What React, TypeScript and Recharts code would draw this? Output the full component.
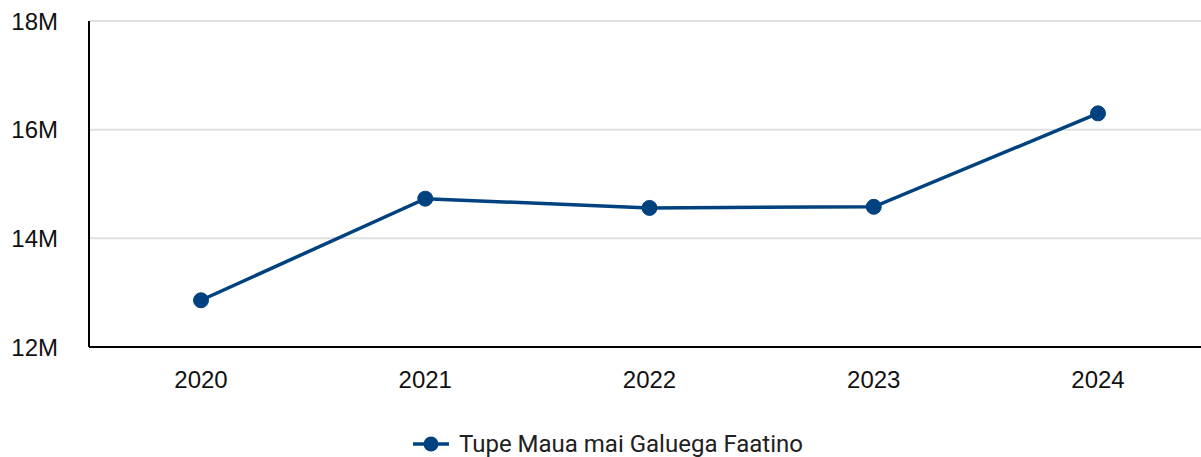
import { LineChart, Line, XAxis, YAxis, CartesianGrid, Legend } from "recharts";

const years = ["2020", "2021", "2022", "2023", "2024"];
const values = [12.86e6, 14.73e6, 14.56e6, 14.58e6, 16.3e6];
const yTicks = [12e6, 14e6, 16e6, 18e6];
const seriesName = "Tupe Maua mai Galuega Faatino";

const data = years.map((year, i) => ({ year, value: values[i] }));

const NAVY = "#00427f";
const tickStyle = { fontSize: 24, fill: "#111", fontFamily: "'Liberation Sans', Arial, sans-serif" };

function LegendContent() {
  return (
    <div
      style={{
        display: "flex",
        justifyContent: "center",
        alignItems: "center",
        height: 24,
        marginTop: 15,
        paddingLeft: 6,
      }}
    >
      <svg width={36} height={16} style={{ marginRight: 10 }}>
        <line x1={0} y1={8} x2={36} y2={8} stroke={NAVY} strokeWidth={3.5} />
        <circle cx={18} cy={8} r={7.5} fill={NAVY} />
      </svg>
      <span style={{ fontFamily: "Roboto, sans-serif", fontSize: 24, lineHeight: "24px", color: "#212121" }}>
        {seriesName}
      </span>
    </div>
  );
}

export default function App() {
  return (
    <div style={{ position: "absolute", left: 0, top: 0, width: 1201, height: 457, overflow: "hidden", background: "#fff" }}>
      <LineChart width={1210} height={457} data={data} margin={{ top: 21, right: 0, bottom: 0, left: 0 }}>
        <CartesianGrid vertical={false} stroke="#e0e0e0" strokeWidth={2} />
        <XAxis
          dataKey="year"
          height={70}
          padding={{ left: 112, right: 112 }}
          axisLine={{ stroke: "#000", strokeWidth: 2 }}
          tickLine={false}
          tickSize={0}
          tickMargin={24}
          tick={tickStyle}
        />
        <YAxis
          width={89}
          domain={[12e6, 18e6]}
          ticks={yTicks}
          axisLine={{ stroke: "#000", strokeWidth: 2 }}
          tickLine={false}
          tickSize={0}
          tickMargin={31}
          tick={tickStyle}
          tickFormatter={(v: number) => `${Math.round(v / 1e6)}M`}
        />
        <Legend verticalAlign="bottom" height={40} content={<LegendContent />} />
        <Line
          type="linear"
          dataKey="value"
          name={seriesName}
          stroke={NAVY}
          strokeWidth={3.5}
          dot={{ r: 7.5, fill: NAVY, stroke: NAVY, strokeWidth: 1 }}
          activeDot={false}
          isAnimationActive={false}
        />
      </LineChart>
    </div>
  );
}
